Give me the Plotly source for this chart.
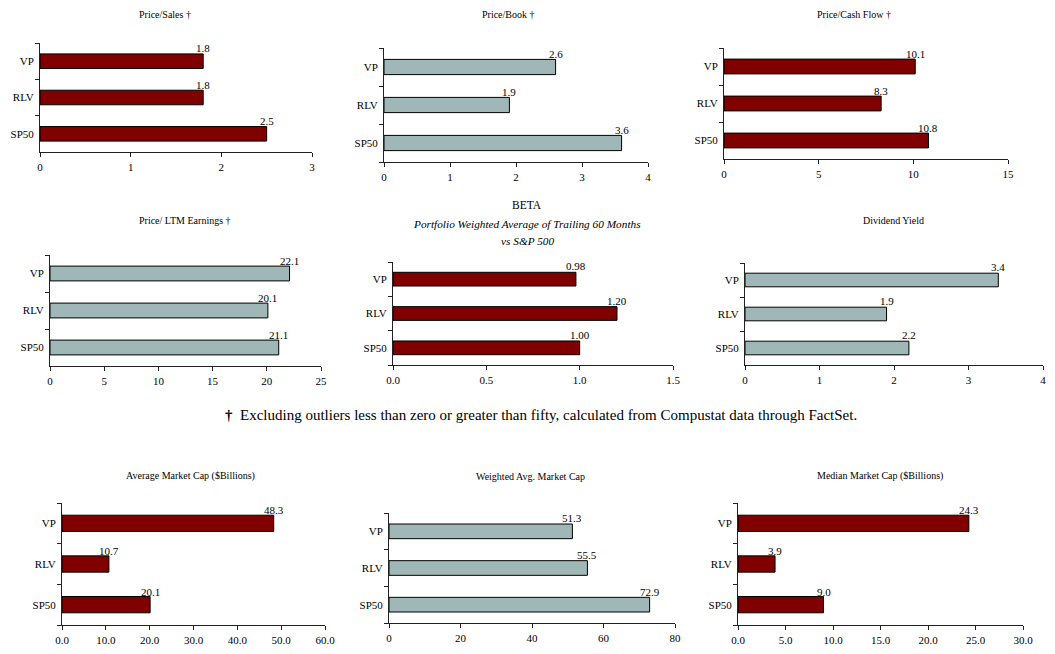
import plotly.graph_objects as go

categories = ["VP", "RLV", "SP50"]

titles = [
    "Price/Sales †",
    "Price/Book †",
    "Price/Cash Flow †",
    "Price/ LTM Earnings †",
    "BETA",
    "Dividend Yield",
    "Average Market Cap ($Billions)",
    "Weighted Avg. Market Cap",
    "Median Market Cap ($Billions)",
]
beta_subtitle = ["Portfolio Weighted Average of Trailing 60 Months", "vs S&P 500"]

price_sales = [1.8, 1.8, 2.5]
price_book = [2.6, 1.9, 3.6]
price_cash_flow = [10.1, 8.3, 10.8]
price_ltm_earnings = [22.1, 20.1, 21.1]
beta = [0.98, 1.20, 1.00]
dividend_yield = [3.4, 1.9, 2.2]
avg_market_cap = [48.3, 10.7, 20.1]
weighted_avg_market_cap = [51.3, 55.5, 72.9]
median_market_cap = [24.3, 3.9, 9.0]

series = [price_sales, price_book, price_cash_flow, price_ltm_earnings, beta,
          dividend_yield, avg_market_cap, weighted_avg_market_cap, median_market_cap]

x_ranges = [(0, 3), (0, 4), (0, 15), (0, 25), (0, 1.5), (0, 4), (0, 60), (0, 80), (0, 30)]
x_dticks = [1, 1, 5, 5, 0.5, 1, 10, 20, 5]
tick_formats = ["d", "d", "d", "d", ".1f", "d", ".1f", "d", ".1f"]
label_formats = ["{:.1f}", "{:.1f}", "{:.1f}", "{:.1f}", "{:.2f}", "{:.1f}", "{:.1f}", "{:.1f}", "{:.1f}"]

footnote = "<b>†</b>  Excluding outliers less than zero or greater than fifty, calculated from Compustat data through FactSet."

# ---- layout / style (pixel boxes of each plot area: x0, x1, ytop, ybottom) ----
W, H = 1055, 654
boxes = [
    (40, 312, 43, 152), (384, 648, 48, 162), (724, 1008, 48, 159),
    (50, 321, 255, 366), (393, 673, 262, 365), (745, 1043, 263, 365),
    (62, 325, 503, 625), (389, 675, 513, 623), (738, 1023, 503, 625),
]
title_pos = [
    (165, 14), (508, 14), (854, 14),
    (185, 220), (527, 205), (893, 220),
    (190, 476), (530, 476), (880, 476),
]
subtitle_pos = [(527, 224), (527, 241)]
RED = "#800000"
GRAY = "#9FB7B7"
colors = [RED, GRAY, RED, GRAY, RED, GRAY, RED, GRAY, RED]
FONT = "Liberation Serif, Times New Roman, serif"

fig = go.Figure()
layout = dict(
    width=W, height=H, margin=dict(l=0, r=0, t=0, b=0, autoexpand=False),
    paper_bgcolor="white", plot_bgcolor="white", showlegend=False,
    font=dict(family=FONT, size=11, color="black"),
)
annotations = []

for i, (vals, (x0, x1, yt, yb)) in enumerate(zip(series, boxes)):
    n = "" if i == 0 else str(i + 1)
    xa, ya = "x" + n, "y" + n
    fig.add_trace(go.Bar(
        x=vals, y=categories, orientation="h", width=0.4,
        marker=dict(color=colors[i], line=dict(color="black", width=1)),
        xaxis=xa, yaxis=ya, hoverinfo="x+y",
    ))
    layout["xaxis" + n] = dict(
        domain=[x0 / W, x1 / W], anchor=ya, range=list(x_ranges[i]),
        dtick=x_dticks[i], tick0=0, tickformat=tick_formats[i], automargin=False,
        showgrid=False, zeroline=False, showline=True, linecolor="#222",
        linewidth=1, ticks="outside", ticklen=4, tickcolor="#222",
        tickfont=dict(size=11, family=FONT), ticklabelstandoff=1, fixedrange=True,
    )
    layout["yaxis" + n] = dict(
        domain=[1 - yb / H, 1 - yt / H], anchor=xa, automargin=False,
        type="category", categoryorder="array", categoryarray=categories[::-1],
        range=[-0.5, 2.5], showgrid=False, zeroline=False, showline=True,
        linecolor="#222", linewidth=1, ticks="outside", ticklen=4,
        tickcolor="#222", tickson="boundaries",
        tickfont=dict(size=11, family=FONT), ticklabelstandoff=3, fixedrange=True,
    )
    for c, v in zip(categories, vals):
        annotations.append(dict(
            x=v, y=c, xref=xa, yref=ya, text=label_formats[i].format(v),
            showarrow=False, xanchor="center", yanchor="bottom", yshift=5,
            font=dict(size=11, family=FONT, color="black"),
        ))
    tx, ty = title_pos[i]
    annotations.append(dict(
        x=tx / W, y=1 - ty / H, xref="paper", yref="paper",
        text=titles[i], showarrow=False, xanchor="center", yanchor="middle",
        font=dict(size=11.5 if i == 4 else 10, family=FONT, color="black"),
    ))

for txt, (sx, sy) in zip(beta_subtitle, subtitle_pos):
    annotations.append(dict(
        x=sx / W, y=1 - sy / H, xref="paper", yref="paper",
        text="<i>" + txt + "</i>", showarrow=False, xanchor="center", yanchor="middle",
        font=dict(size=11.3, family=FONT, color="black"),
    ))

annotations.append(dict(
    x=541 / W, y=1 - 415 / H, xref="paper", yref="paper", text=footnote,
    showarrow=False, xanchor="center", yanchor="middle",
    font=dict(size=15, family=FONT, color="black"),
))

layout["annotations"] = annotations
fig.update_layout(**layout)
fig.write_html(
    "out.html",
    config={"displayModeBar": False},
    post_script="document.body.style.margin='0';document.body.style.overflow='hidden';",
)
